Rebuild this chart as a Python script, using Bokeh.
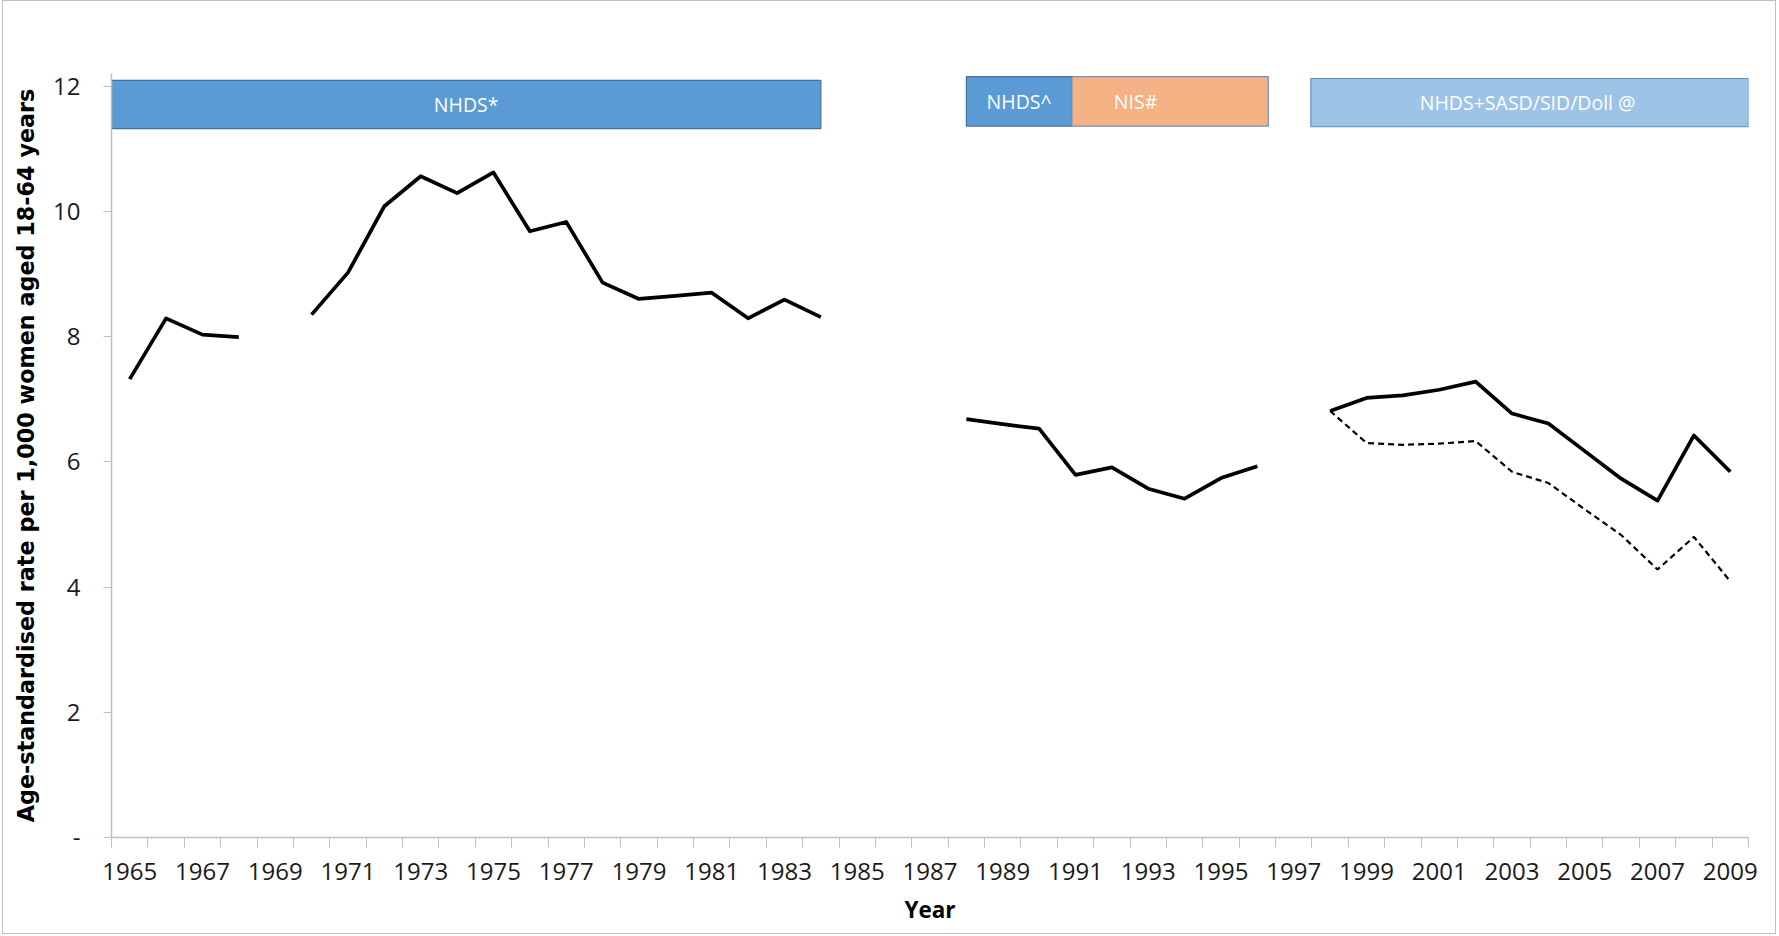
from bokeh.plotting import figure
from bokeh.models import ColumnDataSource, FixedTicker, Range1d
from bokeh.core.properties import value
from bokeh.embed import file_html
from bokeh.resources import INLINE

NaN = float("nan")

years = list(range(1965, 2010))
rate_main = [7.32, 8.29, 8.03, 7.99, NaN, 8.35, 9.02, 10.08, 10.56, 10.29,
             10.62, 9.68, 9.83, 8.86, 8.60, 8.65, 8.70, 8.29, 8.59, 8.31,
             NaN, NaN, NaN, 6.68, 6.60, 6.53, 5.79, 5.91, 5.57, 5.41,
             5.74, 5.93, NaN, 6.81, 7.02, 7.06, 7.15, 7.28, 6.77, 6.61,
             6.17, 5.73, 5.38, 6.42, 5.84]
alt_years = list(range(1998, 2010))
rate_alt = [6.81, 6.30, 6.27, 6.29, 6.33, 5.84, 5.66, 5.24, 4.83, 4.28, 4.80, 4.09]

banner_labels = ["NHDS*", "NHDS^", "NIS#", "NHDS+SASD/SID/Doll  @"]
banner_start = [1964.5, 1988.0, 1990.9, 1997.47]
banner_end = [1984.0, 1990.9, 1996.3, 2009.5]
banner_bottom = [11.32, 11.36, 11.36, 11.35]
banner_top = [12.09, 12.15, 12.15, 12.12]
banner_text_x = [1974.25, 1989.45, 1992.65, 2003.5]
banner_fill = ["#5B9BD5", "#5B9BD5", "#F4B183", "#9DC3E6"]
banner_edge = ["#41719C", "#41719C", "#6F8FB8", "#5B8FC8"]

y_ticks = [0, 2, 4, 6, 8, 10, 12]
x_label_years = list(range(1965, 2010, 2))

FONT = "Open Sans"

p = figure(width=1774, height=934, output_backend="svg", toolbar_location=None,
           x_range=Range1d(1964.5, 2009.5), y_range=Range1d(0, 12.2),
           min_border_left=108, min_border_right=29, min_border_top=72,
           min_border_bottom=98)
p.styles = {"border": "1px solid #BFBFBF", "margin-left": "2px", "margin-top": "0px"}
p.outline_line_color = None
p.grid.visible = False
p.background_fill_color = "white"
p.border_fill_color = "white"

# banners
bsrc = ColumnDataSource(dict(left=banner_start, right=banner_end,
                             bottom=banner_bottom, top=banner_top,
                             fill=banner_fill, edge=banner_edge,
                             tx=banner_text_x, label=banner_labels,
                             ty=[(b + t) / 2 for b, t in zip(banner_bottom, banner_top)]))
p.quad(left="left", right="right", bottom="bottom", top="top", source=bsrc,
       fill_color="fill", line_color="edge", line_width=1.2)
p.text(x="tx", y="ty", text="label", source=bsrc, text_color="white",
       text_font=value(FONT), text_font_size="19.5px", text_align="center",
       text_baseline="middle")

# lines
p.line(years, rate_main, line_color="black", line_width=3.7, line_join="round")
p.line(alt_years, rate_alt, line_color="black", line_width=2.2, line_dash="6 4")

# x axis
xa = p.xaxis[0]
xa.ticker = FixedTicker(ticks=x_label_years,
                        minor_ticks=[y - 0.5 for y in years] + [2009.5])
xa.major_tick_line_color = None
xa.minor_tick_line_color = "#BFBFBF"
xa.minor_tick_in = 0
xa.minor_tick_out = 10
xa.axis_line_color = "#BFBFBF"
xa.axis_line_width = 1.5
xa.major_label_text_font = FONT
xa.major_label_text_font_size = "24px"
xa.major_label_text_color = "#1a1a1a"
xa.major_label_standoff = 15
xa.axis_label = "Year"
xa.axis_label_text_font = FONT
xa.axis_label_text_font_style = "bold"
xa.axis_label_text_font_size = "22.5px"
xa.axis_label_text_color = "black"
xa.axis_label_standoff = 11

# y axis
ya = p.yaxis[0]
ya.ticker = FixedTicker(ticks=y_ticks, minor_ticks=[])
ya.major_label_overrides = {0: "-"}
ya.major_tick_line_color = "#BFBFBF"
ya.major_tick_in = 0
ya.major_tick_out = 8
ya.axis_line_color = "#BFBFBF"
ya.axis_line_width = 1.5
ya.major_label_text_font = FONT
ya.major_label_text_font_size = "24px"
ya.major_label_text_color = "#1a1a1a"
ya.major_label_standoff = 23
ya.axis_label = "Age-standardised rate per 1,000 women aged 18-64 years"
ya.axis_label_text_font = "DejaVu Sans"
ya.axis_label_text_font_style = "bold"
ya.axis_label_text_font_size = "22.3px"
ya.axis_label_text_color = "black"
ya.axis_label_standoff = 11

open("out.html", "w").write(file_html(p, INLINE))
